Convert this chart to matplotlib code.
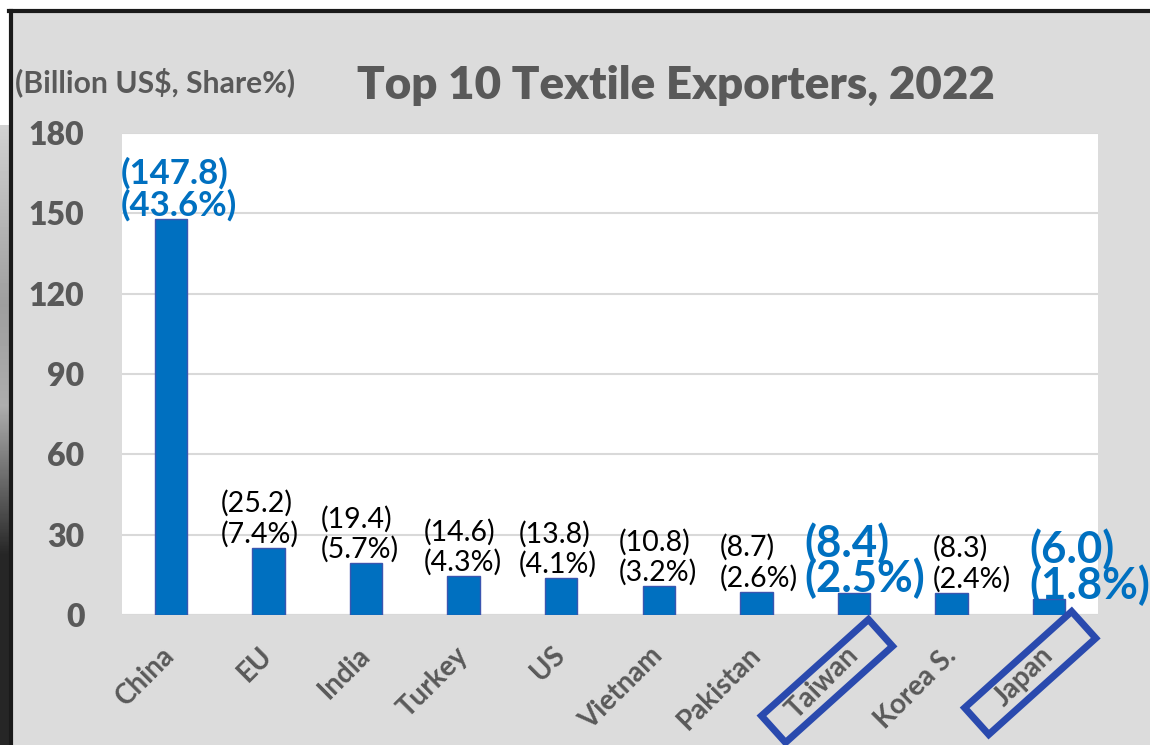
import numpy as np
import matplotlib
matplotlib.use("Agg")
import matplotlib.pyplot as plt
from matplotlib.patches import Rectangle
from matplotlib.transforms import Affine2D

categories = ["China", "EU", "India", "Turkey", "US", "Vietnam", "Pakistan", "Taiwan", "Korea S.", "Japan"]
values = [147.8, 25.2, 19.4, 14.6, 13.8, 10.8, 8.7, 8.4, 8.3, 6.0]
shares = [43.6, 7.4, 5.7, 4.3, 4.1, 3.2, 2.6, 2.5, 2.4, 1.8]
yticks = [0, 30, 60, 90, 120, 150, 180]

BG = "#DCDCDC"
GRAY = "#595959"
BLUE = "#0070C0"
BOXBLUE = "#2A4AAE"
FONT = ["Lato", "DejaVu Sans"]
W, H = 1150, 745
PT = 72 / 100  # points per pixel

fig = plt.figure(figsize=(11.5, 7.45), dpi=100)
fig.patch.set_facecolor(BG)
renderer = fig.canvas.get_renderer()


def fit_text(t, target_px):
    bb = t.get_window_extent(renderer=renderer)
    t.set_fontsize(t.get_fontsize() * target_px / bb.width)


# outer frame decorations (screenshot edge)
edge = fig.add_axes([0, 0, 9 / W, 1])
grad = np.concatenate([np.full(125, 1.0), np.linspace(0.82, 0.62, 180), np.linspace(0.62, 0.68, 100),
                       np.linspace(0.68, 0.15, 150), np.full(190, 0.15)])[:, None]
edge.imshow(grad, cmap="gray", vmin=0, vmax=1, aspect="auto", extent=[0, 1, 0, 1])
edge.axis("off")
fig.add_artist(Rectangle((0, (H - 10) / H), 1, 10 / H, transform=fig.transFigure,
                         facecolor="white", edgecolor="none", zorder=5))
fig.add_artist(plt.Line2D([9 / W, 1], [(H - 11) / H, (H - 11) / H], transform=fig.transFigure,
                          color="#1a1a1a", lw=3, zorder=6))
fig.add_artist(plt.Line2D([10.5 / W, 10.5 / W], [0, (H - 11) / H], transform=fig.transFigure,
                          color="#1a1a1a", lw=3, zorder=6))

ax = fig.add_axes([122 / W, 130 / H, 976 / W, 482 / H])
ax.set_facecolor("white")
x = np.arange(len(categories))
ax.bar(x, values, width=0.33, color=BLUE, edgecolor="#3A56B0", linewidth=1, zorder=3)
ax.set_xlim(-0.5, len(categories) - 0.5)
ax.set_ylim(0, 180)
ax.set_yticks(yticks)
ax.yaxis.grid(True, color="#D9D9D9", lw=1.5, zorder=0)
for s in ax.spines.values():
    s.set_visible(False)
ax.axhline(0, color="#D9D9D9", lw=1.5, zorder=2)
ax.tick_params(axis="both", length=0)
ax.tick_params(axis="y", pad=27)
for lab in ax.get_yticklabels():
    lab.set_fontfamily(FONT)
    lab.set_fontsize(23)
    lab.set_fontweight("heavy")
    lab.set_color(GRAY)

ax.set_xticks(x)
ax.set_xticklabels(categories, rotation=45, ha="right", va="center", rotation_mode="anchor",
                   fontfamily=FONT, fontsize=20, fontweight="bold", color=GRAY)
ax.tick_params(axis="x", pad=26)

highlight = ["Taiwan", "Japan"]
box_offsets = {"Taiwan": (-27, -66), "Japan": (-19, -58)}
for c in highlight:
    i = categories.index(c)
    px, py = ax.transData.transform((i, 0))
    dx, dy = box_offsets[c]
    tr = Affine2D().rotate_deg(42).translate(px + dx, py + dy)
    fig.add_artist(Rectangle((-72, -18), 144, 36, transform=tr, facecolor="none",
                             edgecolor=BOXBLUE, lw=5, zorder=7, clip_on=False))

# left edge of each plain label block relative to bar centre (pixels)
label_left_px = {"EU": -48, "India": -45, "Turkey": -40, "US": -42, "Vietnam": -40,
                 "Pakistan": -37, "Korea S.": -19}

for i, (c, v, s) in enumerate(zip(categories, values, shares)):
    txt = f"({v:.1f})\n({s:.1f}%)"
    if c == "China":
        ax.annotate(txt, (i, v), xytext=(6, -2), textcoords="offset points", ha="center", va="bottom",
                    multialignment="left", fontfamily=FONT, fontsize=25, fontweight="bold",
                    color=BLUE, linespacing=1.0)
    elif c in highlight:
        dx = 7.5 if c == "Taiwan" else 29.5
        ax.annotate(txt, (i, v), xytext=(dx, -5), textcoords="offset points", ha="center", va="bottom",
                    multialignment="left", fontfamily=FONT, fontsize=31.5, fontweight="bold",
                    color=BLUE, linespacing=0.82)
    else:
        ax.annotate(txt, (i, v), xytext=(label_left_px[c] * PT, 0), textcoords="offset points",
                    ha="left", va="bottom", multialignment="left", fontfamily=FONT, fontsize=20.5,
                    color="black", linespacing=1.17)

title = fig.text(676 / W, (H - 85) / H, "Top 10 Textile Exporters, 2022", ha="center", va="center",
                 fontfamily=FONT, fontsize=30, fontweight="heavy", color=GRAY)
fit_text(title, 638)
ylab = fig.text(15 / W, (H - 82) / H, "(Billion US$, Share%)", ha="left", va="center",
                fontfamily=FONT, fontsize=18, fontweight="bold", color=GRAY)
fit_text(ylab, 280)

fig.savefig("out.png", dpi=100, facecolor=fig.get_facecolor())
